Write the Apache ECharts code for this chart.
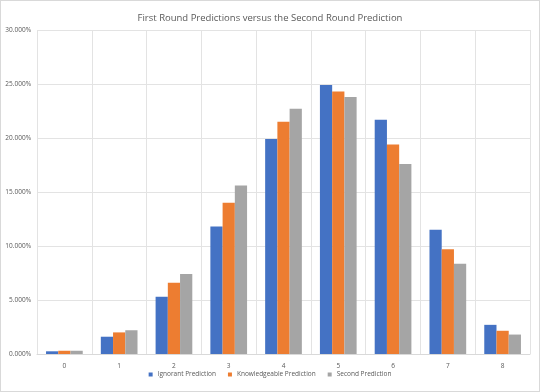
<!DOCTYPE html>
<html><head><meta charset="utf-8">
<script src="https://cdn.jsdelivr.net/npm/echarts@6/dist/echarts.min.js"></script>
<style>html,body{margin:0;padding:0;background:#fff}#c{width:540px;height:392px;box-sizing:border-box;border:1px solid #d9d9d9}</style>
</head><body><div id="c"></div>
<script>
const categories = ['0','1','2','3','4','5','6','7','8'];
const ignorant = [0.25, 1.6, 5.3, 11.8, 19.9, 24.9, 21.7, 11.5, 2.7];
const knowledgeable = [0.3, 2.0, 6.6, 14.0, 21.5, 24.3, 19.4, 9.7, 2.15];
const second = [0.3, 2.2, 7.4, 15.6, 22.7, 23.8, 17.6, 8.35, 1.8];
const seriesNames = ['Ignorant Prediction','Knowledgeable Prediction','Second Prediction'];
const colors = ['#4472c4','#ed7d31','#a5a5a5'];
const font = 'Open Sans, sans-serif';
const chart = echarts.init(document.getElementById('c'));
chart.setOption({
  animation:false,
  title:{text:'First Round Predictions versus the Second Round Prediction',left:'center',top:7,
    textStyle:{fontSize:9.5,fontWeight:'normal',color:'#595959',fontFamily:'Open Sans, sans-serif'}},
  legend:{bottom:8,left:'center',itemWidth:4,itemHeight:4,itemGap:12,icon:'rect',
    textStyle:{fontSize:6.5,color:'#595959',fontFamily:font}},
  grid:{left:36,right:9,top:29,bottom:37,containLabel:false},
  xAxis:{type:'category',data:categories,
    axisLine:{lineStyle:{color:'#d9d9d9'}},axisTick:{show:false},
    axisLabel:{fontSize:6.5,color:'#595959',margin:9,fontFamily:font},
    splitLine:{show:true,interval:0,lineStyle:{color:'#e3e3e3'}}},
  yAxis:{type:'value',min:0,max:30,interval:5,
    axisLabel:{fontSize:6.5,color:'#595959',fontFamily:font,margin:6,formatter:v=>v.toFixed(3)+'%'},
    axisLine:{show:false},axisTick:{show:false},
    splitLine:{lineStyle:{color:'#e3e3e3'}}},
  series:[ignorant,knowledgeable,second].map((d,i)=>({
    name:seriesNames[i],type:'bar',data:d,barGap:'0%',barCategoryGap:'33%',
    itemStyle:{color:colors[i]}}))
});
</script></body></html>
